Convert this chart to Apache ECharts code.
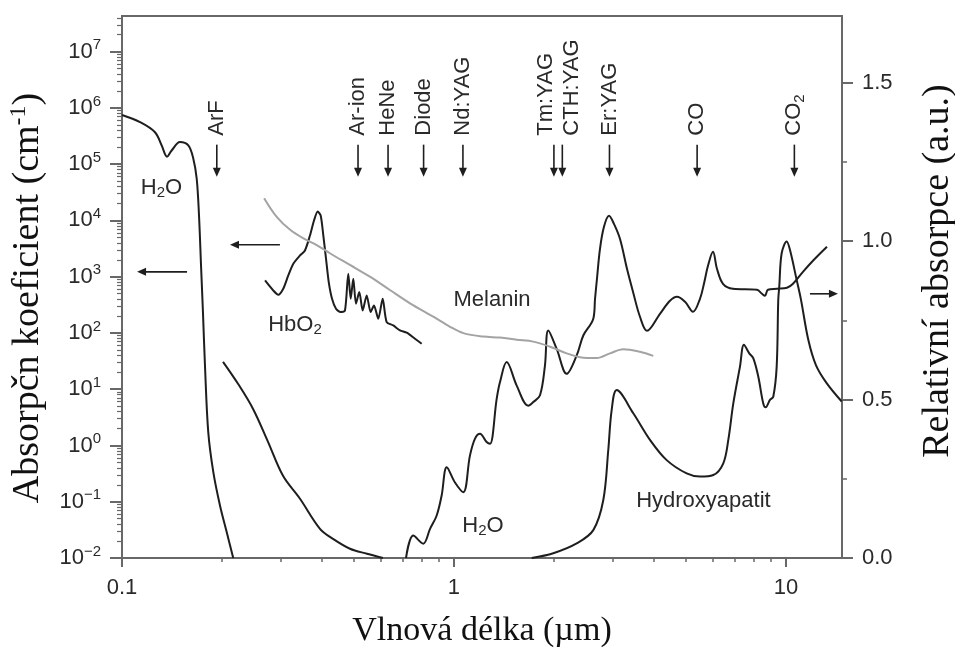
<!DOCTYPE html>
<html><head><meta charset="utf-8">
<script src="https://cdn.jsdelivr.net/npm/echarts@6/dist/echarts.min.js"></script>
<style>html,body{margin:0;padding:0;background:#fff}#c{width:955px;height:648px}</style>
</head><body><div id="c"></div>
<script>
// ---- data (wavelength in µm, left axis: absorption coefficient cm^-1, right axis: relative absorption) ----
const waterUV = [[0.1,7.5e5],[0.1133,5.6e5],[0.1257,3.7e5],[0.1317,2.15e5],[0.1367,1.36e5],[0.1411,1.75e5],[0.1495,2.47e5],[0.1584,2.15e5],[0.164,1.25e5],[0.1679,5.5e4],[0.1706,1.22e4],[0.173,1.58e3],[0.1754,219],[0.1778,26.4],[0.1819,1.73],[0.1884,0.336],[0.1973,0.0859],[0.2067,0.0289],[0.2163,0.01]];
const waterVis = [[0.2015,30.7],[0.2236,12.5],[0.248,4.5],[0.2753,1.16],[0.3055,0.289],[0.3437,0.113],[0.3948,0.033],[0.4319,0.0219],[0.4861,0.0146],[0.547,0.0119],[0.611,0.01]];
const waterIR = [[0.717,0.01],[0.754,0.025],[0.808,0.018],[0.847,0.033],[0.887,0.057],[0.918,0.129],[0.951,0.41],[1.007,0.22],[1.067,0.148],[1.117,0.66],[1.157,1.32],[1.198,1.61],[1.254,1.15],[1.284,1.07],[1.345,6.8],[1.376,13.4],[1.441,30.4],[1.545,11.6],[1.674,5.1],[1.733,5.9],[1.816,7.8],[1.879,26],[1.923,111],[2.039,52],[2.185,18.8],[2.342,40],[2.452,90],[2.628,179],[2.66,405],[2.696,919],[2.753,3130],[2.83,7700],[2.93,12100],[3.033,8700],[3.162,4720],[3.32,1380],[3.461,540],[3.633,194],[3.814,109],[4.173,219],[4.473,373],[4.696,439],[4.965,358],[5.248,238],[5.508,405],[5.662,748],[5.822,1560],[6.028,2770],[6.198,1380],[6.461,748],[6.924,610],[8.178,586],[8.466,497],[8.643,458],[8.827,586],[9.395,610],[10.07,635],[10.5,748],[11.25,1220],[12.06,1920],[13.29,3400]];
const hbo2 = [[0.2697,857],[0.2855,569],[0.2956,477],[0.306,610],[0.3169,1052],[0.3281,1698],[0.3437,2385],[0.3557,2925],[0.3683,5405],[0.3788,9980],[0.3886,14400],[0.3967,12200],[0.404,5405],[0.4117,2080],[0.4195,802],[0.4292,405],[0.4412,269],[0.4557,235],[0.4695,251],[0.4804,1127],[0.4885,405],[0.4974,919],[0.5067,330],[0.5185,533],[0.5309,251],[0.5458,464],[0.5612,235],[0.5741,308],[0.5915,179],[0.6098,405],[0.6269,156],[0.6563,136],[0.6876,111],[0.7204,101],[0.7629,78.8],[0.7993,64.3]];
const melanin = [[0.268,1.136],[0.292,1.078],[0.321,1.036],[0.352,1.009],[0.386,0.988],[0.423,0.962],[0.486,0.925],[0.558,0.888],[0.641,0.846],[0.737,0.804],[0.866,0.762],[0.973,0.730],[1.067,0.710],[1.225,0.699],[1.376,0.696],[1.545,0.689],[1.733,0.683],[1.946,0.667],[2.185,0.646],[2.397,0.634],[2.691,0.631],[2.951,0.646],[3.236,0.659],[3.633,0.651],[3.984,0.638]];
const hydroxyapatite = [[1.714,0],[1.991,0.015],[2.342,0.046],[2.628,0.088],[2.817,0.183],[2.916,0.341],[2.985,0.467],[3.091,0.53],[3.468,0.457],[3.894,0.373],[4.372,0.309],[5.022,0.267],[5.508,0.257],[6.04,0.262],[6.475,0.299],[6.704,0.373],[6.94,0.488],[7.269,0.604],[7.472,0.673],[7.753,0.646],[7.97,0.631],[8.252,0.573],[8.543,0.488],[8.688,0.476],[8.95,0.499],[9.157,0.509],[9.376,0.604],[9.48,0.815],[9.546,0.857],[9.706,0.962],[10.05,0.999],[10.28,0.973],[10.77,0.878],[11.1,0.815],[11.68,0.688],[12.31,0.609],[13.26,0.552],[14.72,0.494]];
const lasers = [['ArF',0.193],['Ar-ion',0.514],['HeNe',0.633],['Diode',0.81],['Nd:YAG',1.064],['Tm:YAG',2.0],['CTH:YAG',2.12],['Er:YAG',2.94],['CO',5.4],['CO2',10.6]];
const curveLabels = [['H2O',0.1315,3.8e4],['HbO2',0.332,140],['Melanin',1.302,388],['H2O',1.223,0.0374],['Hydroxyapatit',5.64,0.105]];
const arrowsLeftAxis = [[0.157,0.111,1220],[0.299,0.2115,3690]];
const arrowsRightAxis = [[11.81,14.34,0.834]];
const xTickValues = [0.1, 1, 10];
const yLeftTickValues = [0.01, 0.1, 1, 10, 100, 1e3, 1e4, 1e5, 1e6, 1e7];
const yRightTickValues = [0, 0.5, 1.0, 1.5];
const xRange = [0.1, 14.75];
const yLeftRange = [0.01, 4.3e7];
const yRightRange = [0, 1.711];
const laserArrowTip = 6e4;

// ---- styling / layout ----
const SANS = '"Liberation Sans", Arial, Helvetica, sans-serif';
const SERIF = '"Liberation Serif", "Times New Roman", serif';
const INK = '#1e1e1e';
const AX = '#686868';
const TXT = '#2a2a2a';
const FS = 22;
const laserLabelShift = { 'Tm:YAG': -8, 'CTH:YAG': 10 };

const subRich = {
  n: { fontSize: FS, fontFamily: SANS, fill: TXT, lineHeight: 26 },
  s: { fontSize: 15, fontFamily: SANS, fill: TXT, verticalAlign: 'bottom', lineHeight: 15 }
};
function withSub(t) {
  if (t === 'H2O') return '{n|H}{s|2}{n|O}';
  if (t === 'HbO2') return '{n|HbO}{s|2}';
  if (t === 'CO2') return '{n|CO}{s|2}';
  return '{n|' + t + '}';
}
function decadeLabel(v) {
  const l = Math.log10(v), n = Math.round(l);
  if (Math.abs(l - n) > 1e-6) return '';
  return '{b|10}{s|' + (n < 0 ? '\u2212' + (-n) : n) + '}';
}

const chart = echarts.init(document.getElementById('c'));
const lineBase = { type: 'line', showSymbol: false, symbol: 'none', smooth: 0.35, silent: true,
  lineStyle: { color: INK, width: 2 }, z: 3 };

chart.setOption({
  animation: false,
  backgroundColor: '#fff',
  grid: { left: 122, right: 113, top: 16, bottom: 90, outerBoundsMode: 'none', containLabel: false,
    show: true, borderColor: AX, borderWidth: 2, backgroundColor: 'transparent' },
  graphic: [
    { type: 'text', x: 28, y: 298, rotation: Math.PI / 2,
      style: { text: '{t|Absorp\u010dn koeficient (cm}{u|-1}{t|)}', align: 'center', verticalAlign: 'middle',
        rich: { t: { fontFamily: SERIF, fontSize: 38, fill: '#111', lineHeight: 42 }, u: { fontFamily: SERIF, fontSize: 24, fill: '#111', verticalAlign: 'top', lineHeight: 24 } } } },
    { type: 'text', x: 938, y: 271, rotation: Math.PI / 2,
      style: { text: 'Relativn\u00ed absorpce (a.u.)', align: 'center', verticalAlign: 'middle',
        fontFamily: SERIF, fontSize: 38, fill: '#111' } }
  ],
  xAxis: {
    type: 'log', logBase: 10, min: xRange[0], max: xRange[1],
    name: 'Vlnová délka (\u00b5m)', nameLocation: 'middle', nameGap: 56,
    nameTextStyle: { fontFamily: SERIF, fontSize: 34, color: '#111' },
    axisLine: { show: true, lineStyle: { color: AX, width: 2 } },
    axisTick: { show: true, length: 9, customValues: xTickValues, lineStyle: { color: AX, width: 2 } },
    minorTick: { show: true, splitNumber: 9, length: 4, lineStyle: { color: AX, width: 1.5 } },
    splitLine: { show: false }, minorSplitLine: { show: false },
    axisLabel: { fontFamily: SANS, fontSize: FS, color: TXT, margin: 19, customValues: xTickValues,
      formatter: v => String(+(+v).toPrecision(3)) }
  },
  yAxis: [{
    type: 'log', logBase: 10, min: yLeftRange[0], max: yLeftRange[1], position: 'left', splitNumber: 10,
    axisLine: { show: true, lineStyle: { color: AX, width: 2 } },
    axisTick: { show: true, length: 12, customValues: yLeftTickValues, lineStyle: { color: AX, width: 2 } },
    minorTick: { show: true, splitNumber: 9, length: 5, lineStyle: { color: AX, width: 1.2 } },
    splitLine: { show: false }, minorSplitLine: { show: false },
    axisLabel: { margin: 21, customValues: yLeftTickValues, formatter: decadeLabel,
      rich: { b: { fontFamily: SANS, fontSize: FS, color: TXT, lineHeight: 28 }, s: { fontFamily: SANS, fontSize: 15, color: TXT, verticalAlign: 'top', lineHeight: 15 } } }
  }, {
    type: 'value', min: yRightRange[0], max: yRightRange[1], interval: 0.5, position: 'right',
    axisLine: { show: true, lineStyle: { color: AX, width: 2 } },
    axisTick: { show: true, length: 11, customValues: yRightTickValues, lineStyle: { color: AX, width: 2 } },
    minorTick: { show: true, splitNumber: 2, length: 5, lineStyle: { color: AX, width: 1.5 } },
    splitLine: { show: false }, minorSplitLine: { show: false },
    axisLabel: { fontFamily: SANS, fontSize: FS, color: TXT, margin: 20, customValues: yRightTickValues,
      formatter: v => (+v).toFixed(1) }
  }],
  series: [
    Object.assign({}, lineBase, { name: 'H2O UV', data: waterUV }),
    Object.assign({}, lineBase, { name: 'H2O vis', data: waterVis }),
    Object.assign({}, lineBase, { name: 'H2O IR', data: waterIR }),
    Object.assign({}, lineBase, { name: 'HbO2', data: hbo2, smooth: 0.25 }),
    Object.assign({}, lineBase, { name: 'Melanin', data: melanin, yAxisIndex: 1, lineStyle: { color: '#a3a3a3', width: 2 } }),
    Object.assign({}, lineBase, { name: 'Hydroxyapatit', data: hydroxyapatite, yAxisIndex: 1 }),
    {
      type: 'custom', name: 'lasers', silent: true, clip: false, z: 5,
      data: lasers.map(l => [l[1], laserArrowTip]),
      renderItem: (params, api) => {
        const p = api.coord([api.value(0), api.value(1)]);
        const name = lasers[params.dataIndex][0];
        const dx = laserLabelShift[name] || 0;
        return { type: 'group', children: [
          { type: 'text', x: p[0] + dx, y: p[1] - 41, rotation: Math.PI / 2,
            style: { text: withSub(name), rich: subRich, align: 'left', verticalAlign: 'middle', fill: TXT, fontSize: FS, fontFamily: SANS } },
          { type: 'line', shape: { x1: p[0], y1: p[1] - 32, x2: p[0], y2: p[1] - 7 }, style: { stroke: INK, lineWidth: 1.6 } },
          { type: 'polygon', shape: { points: [[p[0] - 4, p[1] - 9], [p[0] + 4, p[1] - 9], [p[0], p[1]]] }, style: { fill: INK } }
        ] };
      }
    },
    {
      type: 'custom', name: 'curve labels', silent: true, clip: false, z: 5,
      data: curveLabels.map(l => [l[1], l[2]]),
      renderItem: (params, api) => {
        const p = api.coord([api.value(0), api.value(1)]);
        return { type: 'text', x: p[0], y: p[1],
          style: { text: withSub(curveLabels[params.dataIndex][0]), rich: subRich, align: 'center', verticalAlign: 'middle', fill: TXT, fontSize: FS, fontFamily: SANS } };
      }
    },
    {
      type: 'custom', name: 'arrows left', silent: true, clip: false, z: 5,
      data: arrowsLeftAxis,
      renderItem: (params, api) => arrowItem(api)
    },
    {
      type: 'custom', name: 'arrows right', silent: true, clip: false, z: 5, yAxisIndex: 1,
      data: arrowsRightAxis,
      renderItem: (params, api) => arrowItem(api)
    }
  ]
});

function arrowItem(api) {
  const a = api.coord([api.value(0), api.value(2)]);
  const b = api.coord([api.value(1), api.value(2)]);
  const dir = b[0] > a[0] ? 1 : -1;
  const y = a[1];
  return { type: 'group', children: [
    { type: 'line', shape: { x1: a[0], y1: y, x2: b[0] - dir * 7, y2: y }, style: { stroke: INK, lineWidth: 1.6 } },
    { type: 'polygon', shape: { points: [[b[0] - dir * 9, y - 4], [b[0] - dir * 9, y + 4], [b[0], y]] }, style: { fill: INK } }
  ] };
}
</script>
</body></html>
